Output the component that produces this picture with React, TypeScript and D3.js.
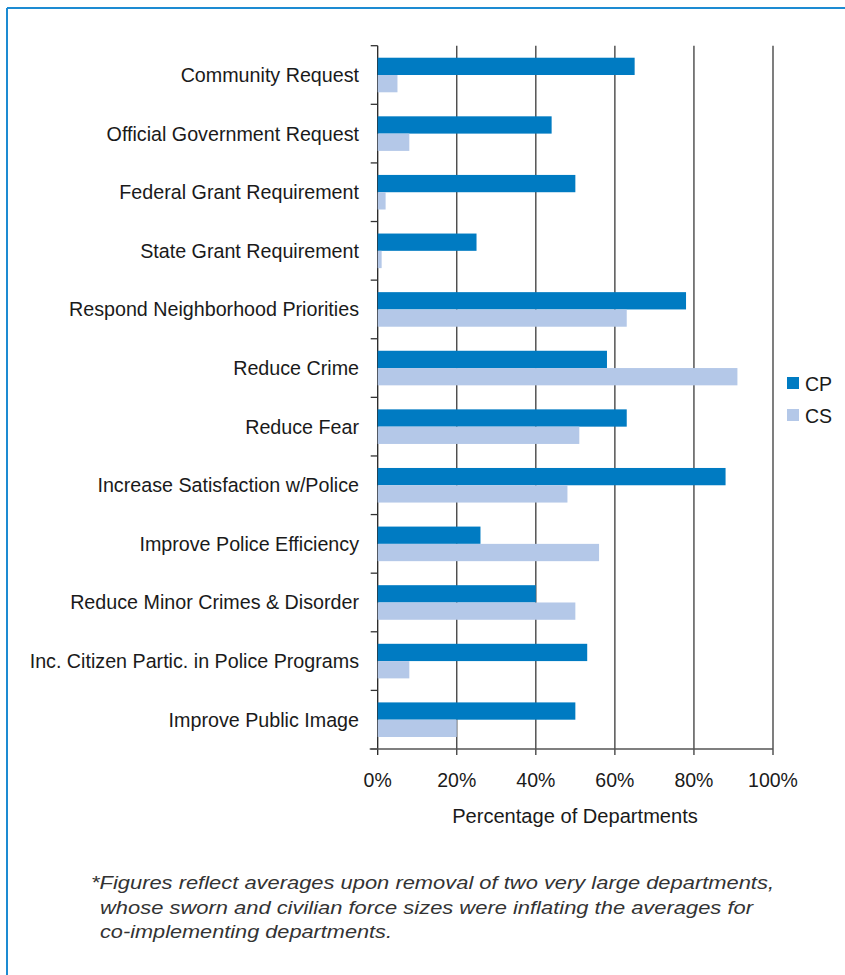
import React from "react";
import * as d3 from "d3";

const categories = [
  "Community Request",
  "Official Government Request",
  "Federal Grant Requirement",
  "State Grant Requirement",
  "Respond Neighborhood Priorities",
  "Reduce Crime",
  "Reduce Fear",
  "Increase Satisfaction w/Police",
  "Improve Police Efficiency",
  "Reduce Minor Crimes & Disorder",
  "Inc. Citizen Partic. in Police Programs",
  "Improve Public Image",
];
const cpValues = [65, 44, 50, 25, 78, 58, 63, 88, 26, 40, 53, 50];
const csValues = [5, 8, 2, 1, 63, 91, 51, 48, 56, 50, 8, 20];
const seriesNames = ["CP", "CS"];
const xTicks = [0, 20, 40, 60, 80, 100];
const axisTitle = "Percentage of Departments";
const footnoteLines = [
  "*Figures reflect averages upon removal of two very large departments,",
  "whose sworn and civilian force sizes were inflating the averages for",
  "co-implementing departments.",
];

const W = 845;
const H = 975;
const left = 377.7;
const right = 773;
const top = 45.7;
const bottom = 749;
const colors = ["#007bc2", "#b4c8e8"];
const font = "'Liberation Sans', Arial, sans-serif";
const footX = [91, 100, 100];
const footLen = [683, 653, 292];

export default function App() {
  const x = d3.scaleLinear().domain([0, 100]).range([left, right]);
  const y = d3
    .scaleBand<string>()
    .domain(categories)
    .range([top, bottom])
    .paddingInner(0.41)
    .paddingOuter(0.205);
  const step = y.step();
  const bh = y.bandwidth() / 2;
  const series = [cpValues, csValues];

  return (
    <svg
      width={W}
      height={H}
      style={{ position: "absolute", left: 0, top: 0, background: "#fff" }}
      fontFamily={font}
    >
      <rect x={0} y={0} width={W} height={H} fill="#fff" />
      {/* frame */}
      <line x1={7} x2={W} y1={8} y2={8} stroke="#1d8bd2" strokeWidth={2} />
      <line x1={7} x2={7} y1={8} y2={H} stroke="#1d8bd2" strokeWidth={2} />

      {/* gridlines */}
      {xTicks.map((t) => (
        <line
          key={"g" + t}
          x1={x(t)}
          x2={x(t)}
          y1={top}
          y2={bottom + 6}
          stroke={t === 0 ? "#222" : "#3a3a3a"}
          strokeWidth={1.3}
        />
      ))}

      {/* bars */}
      {categories.map((c, i) =>
        series.map((vals, s) => (
          <rect
            key={c + s}
            x={x(0)}
            y={(y(c) as number) + s * bh}
            width={x(vals[i]) - x(0)}
            height={bh}
            fill={colors[s]}
          />
        ))
      )}

      {/* category ticks */}
      {d3.range(categories.length + 1).map((i) => (
        <line
          key={"t" + i}
          x1={left - 7}
          x2={left}
          y1={top + i * step}
          y2={top + i * step}
          stroke="#333"
          strokeWidth={1.3}
        />
      ))}
      {/* bottom axis */}
      <line x1={left - 8} x2={right} y1={bottom} y2={bottom} stroke="#555" strokeWidth={1.5} />

      {/* category labels */}
      {categories.map((c) => (
        <text
          key={"l" + c}
          x={359}
          y={(y(c) as number) + bh + 7}
          textAnchor="end"
          fontSize={19.7}
          fill="#1a1a1a"
        >
          {c}
        </text>
      ))}

      {/* tick labels */}
      {xTicks.map((t) => (
        <text key={"x" + t} x={x(t)} y={787} textAnchor="middle" fontSize={19.5} fill="#1a1a1a">
          {t + "%"}
        </text>
      ))}
      <text x={575} y={823} textAnchor="middle" fontSize={20.1} fill="#1a1a1a">
        {axisTitle}
      </text>

      {/* legend */}
      {seriesNames.map((n, s) => (
        <g key={n} transform={`translate(787, ${377 + s * 32})`}>
          <rect x={0} y={0} width={12} height={12} fill={colors[s]} />
          <text x={18} y={14} fontSize={19.5} fill="#1a1a1a">
            {n}
          </text>
        </g>
      ))}

      {/* footnote */}
      {footnoteLines.map((l, i) => (
        <text
          key={"f" + i}
          x={footX[i]}
          y={889 + i * 24.5}
          fontSize={17.5}
          fontStyle="italic"
          fontFamily={font}
          fill="#333"
          textLength={footLen[i]}
          lengthAdjust="spacingAndGlyphs"
        >
          {l}
        </text>
      ))}
    </svg>
  );
}
